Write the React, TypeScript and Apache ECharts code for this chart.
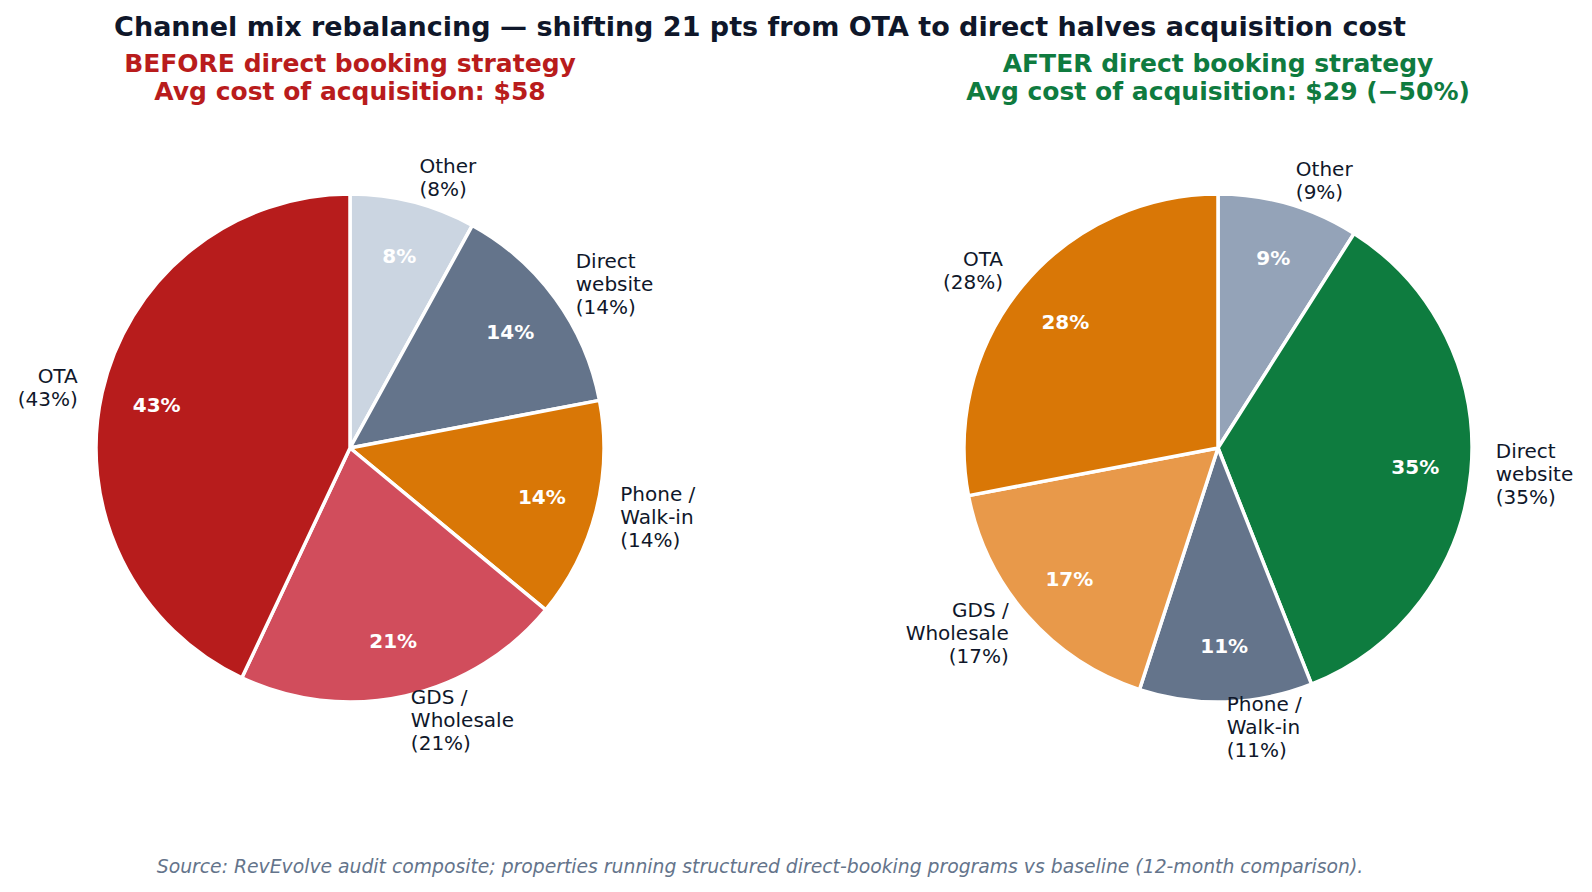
import React, { useEffect, useRef } from "react";
import * as echarts from "echarts";

const channels = ["Other", "Direct website", "Phone / Walk-in", "GDS / Wholesale", "OTA"];
const wrappedLabels = ["Other", "Direct\nwebsite", "Phone /\nWalk-in", "GDS /\nWholesale", "OTA"];
const beforeShare = [8, 14, 14, 21, 43];
const afterShare = [9, 35, 11, 17, 28];
const beforeColors = ["#cbd5e1", "#64748b", "#d97706", "#d14d5c", "#b71c1c"];
const afterColors = ["#94a3b8", "#0e7c3f", "#64748b", "#e8994a", "#d97706"];

const titleText = "Channel mix rebalancing — shifting 21 pts from OTA to direct halves acquisition cost";
const beforeTitle = "BEFORE direct booking strategy\nAvg cost of acquisition: $58";
const afterTitle = "AFTER direct booking strategy\nAvg cost of acquisition: $29 (\u221250%)";
const sourceText = "Source: RevEvolve audit composite; properties running structured direct-booking programs vs baseline (12-month comparison).";

const FONT = "DejaVu Sans";
const R = 254;

function pieSeries(values: number[], colors: string[], cx: number, cy: number) {
  const data = values.map((v, i) => ({
    name: channels[i],
    value: v,
    itemStyle: { color: colors[i] },
  }));
  return [
    {
      type: "pie",
      center: [cx, cy],
      radius: [0, R],
      startAngle: 90,
      clockwise: true,
      avoidLabelOverlap: false,
      silent: true,
      itemStyle: { borderColor: "#ffffff", borderWidth: 3.5 },
      label: {
        show: true,
        position: "outside",
        distanceToLabelLine: 0,
        fontFamily: FONT,
        fontSize: 20,
        lineHeight: 23,
        color: "#0f172a",
        formatter: (p: any) => `${wrappedLabels[p.dataIndex]}\n(${p.value}%)`,
      },
      labelLine: { show: false, length: 25, length2: 0 },
      data,
    },
    {
      type: "pie",
      center: [cx, cy],
      radius: [R * 0.56 - 6, R],
      startAngle: 90,
      clockwise: true,
      avoidLabelOverlap: false,
      silent: true,
      itemStyle: { color: "rgba(0,0,0,0)" },
      label: {
        show: true,
        position: "inside",
        fontFamily: FONT,
        fontSize: 20,
        fontWeight: "bold",
        color: "#ffffff",
        formatter: (p: any) => `${p.value}%`,
      },
      labelLine: { show: false },
      data: values.map((v, i) => ({ name: channels[i], value: v })),
    },
  ];
}

export default function App() {
  const ref = useRef<HTMLDivElement>(null);
  useEffect(() => {
    if (!ref.current) return;
    const chart = echarts.init(ref.current, null, { renderer: "svg" });
    chart.setOption({
      animation: false,
      backgroundColor: "#ffffff",
      title: [
        {
          text: titleText,
          left: 755,
          top: 8,
          textAlign: "center",
          textStyle: { fontFamily: FONT, fontSize: 27, fontWeight: "bold", color: "#0f172a" },
        },
        {
          text: beforeTitle,
          left: 345,
          top: 44,
          textAlign: "center",
          textStyle: { fontFamily: FONT, fontSize: 25, fontWeight: "bold", color: "#b91c1c", lineHeight: 28.5, align: "center" },
        },
        {
          text: afterTitle,
          left: 1213,
          top: 44,
          textAlign: "center",
          textStyle: { fontFamily: FONT, fontSize: 25, fontWeight: "bold", color: "#0f7b3f", lineHeight: 28.5, align: "center" },
        },
        {
          text: sourceText,
          left: 755,
          top: 852,
          textAlign: "center",
          textStyle: { fontFamily: FONT, fontSize: 18.8, fontStyle: "italic", fontWeight: "normal", color: "#64748b" },
        },
      ],
      series: [
        ...pieSeries(beforeShare, beforeColors, 350, 448),
        ...pieSeries(afterShare, afterColors, 1218, 448),
      ],
    });
    return () => chart.dispose();
  }, []);
  return (
    <div
      ref={ref}
      style={{ position: "fixed", left: 0, top: 0, width: 1592, height: 892, background: "#fff" }}
    />
  );
}
